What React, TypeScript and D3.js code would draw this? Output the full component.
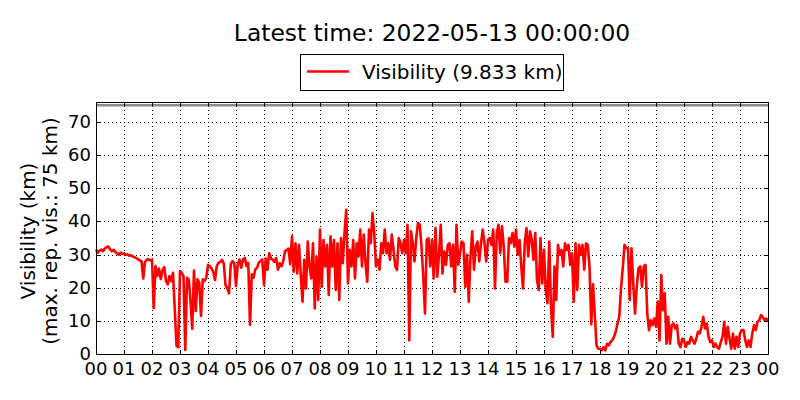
import * as d3 from "d3";

// visibility in km, one row per hour, 16 samples per hour (3.75 min step)
const visibility: number[] = [
  31.5, 30.6, 31.2, 31.5, 31.0, 31.8, 32.2, 32.4, 31.6, 31.0, 31.4, 30.8, 30.4, 29.9, 30.6, 30.2,
  30.4, 29.9, 30.1, 29.6, 29.8, 29.4, 29.2, 28.9, 28.6, 28.2, 28.0, 22.8, 27.8, 28.4, 28.6, 28.2,
  28.4, 13.8, 26.5, 23.5, 25.8, 22.6, 25.2, 26.2, 22.0, 21.0, 23.5, 22.0, 24.5, 13.5, 2.5, 2.0,
  25.0, 24.5, 23.5, 1.2, 23.0, 22.5, 16.0, 7.6, 25.2, 13.0, 22.5, 21.5, 11.5, 22.5, 22.0, 23.0,
  26.9, 26.4, 25.8, 24.8, 22.3, 26.5, 27.5, 27.8, 28.4, 27.3, 20.8, 19.8, 18.3, 27.0, 28.0, 27.5,
  20.5, 27.0, 28.5, 26.0, 28.5, 29.0, 26.5, 27.5, 8.8, 24.0, 23.0, 25.5, 26.0, 27.5, 28.0, 28.5,
  20.8, 28.8, 25.4, 30.4, 28.8, 28.4, 27.8, 28.9, 25.4, 27.4, 26.4, 28.0, 31.0, 31.3, 31.8, 27.0,
  35.5, 24.8, 33.4, 24.3, 32.9, 23.8, 15.8, 28.4, 19.8, 33.9, 26.4, 22.8, 33.4, 13.7, 29.4, 16.3,
  37.5, 20.3, 34.4, 26.4, 32.9, 17.8, 35.5, 26.4, 34.4, 19.3, 33.4, 16.3, 35.0, 27.4, 36.5, 43.5,
  21.3, 31.4, 26.4, 34.4, 22.8, 33.4, 29.4, 37.5, 26.4, 36.0, 27.4, 21.8, 37.5, 33.4, 42.5, 36.5,
  26.4, 28.4, 25.4, 33.4, 30.4, 37.5, 30.4, 33.4, 28.4, 36.0, 31.4, 26.4, 25.4, 35.0, 33.4, 30.4,
  34.4, 30.4, 39.0, 4.1, 37.0, 33.4, 27.9, 35.0, 39.5, 39.0, 32.4, 23.3, 12.2, 34.4, 34.9, 26.4,
  34.4, 22.8, 38.0, 23.3, 29.9, 39.0, 24.3, 30.9, 26.9, 32.9, 33.4, 26.4, 32.9, 18.8, 39.0, 26.9,
  30.4, 33.9, 33.4, 20.3, 29.9, 15.8, 29.4, 37.0, 25.4, 32.4, 33.9, 27.9, 33.4, 37.5, 33.4, 27.9,
  34.4, 35.0, 32.9, 37.5, 19.8, 36.5, 39.0, 30.4, 38.5, 32.4, 21.8, 21.8, 35.0, 33.4, 36.5, 32.4,
  37.5, 29.9, 34.4, 26.4, 19.8, 33.4, 38.0, 29.4, 37.0, 34.4, 28.4, 36.5, 22.3, 19.3, 35.0, 21.3,
  31.4, 19.3, 15.3, 33.9, 14.2, 5.2, 26.4, 16.3, 32.9, 29.9, 31.4, 26.4, 33.4, 31.4, 32.9, 26.9,
  30.4, 15.8, 33.4, 19.3, 32.9, 29.9, 32.9, 25.4, 33.4, 32.9, 26.4, 9.0, 21.0, 12.0, 2.6, 1.6,
  1.6, 1.1, 2.1, 1.1, 3.1, 2.6, 3.6, 4.1, 5.2, 6.7, 9.2, 11.2, 19.8, 25.9, 32.9, 31.9,
  31.9, 16.3, 31.9, 21.3, 12.2, 20.3, 25.9, 26.4, 20.3, 26.4, 26.9, 12.2, 7.2, 10.2, 8.7, 10.7,
  8.2, 15.8, 4.1, 23.8, 13.2, 18.3, 3.1, 11.2, 3.1, 8.7, 9.2, 7.7, 8.7, 3.1, 2.1, 4.6,
  4.1, 2.1, 3.6, 3.1, 5.2, 4.1, 3.1, 4.6, 6.7, 6.2, 8.2, 11.2, 7.7, 9.2, 5.2, 3.6,
  4.1, 2.1, 3.1, 2.1, 1.6, 3.6, 5.2, 9.7, 3.1, 8.2, 4.6, 1.6, 6.2, 1.6, 5.2, 2.1,
  6.2, 7.2, 7.2, 4.1, 2.1, 4.1, 2.1, 6.2, 8.7, 7.2, 9.7, 10.2, 11.7, 11.2, 10.2, 10.7,
  9.833,
];
const samplesPerHour = 16;

const hourLabels = [
  "00", "01", "02", "03", "04", "05", "06", "07", "08", "09", "10", "11", "12",
  "13", "14", "15", "16", "17", "18", "19", "20", "21", "22", "23", "00",
];
const yTicks = [0, 10, 20, 30, 40, 50, 60, 70];
const maxRepVis = 75;
const title = "Latest time: 2022-05-13 00:00:00";
const legendLabel = "Visibility (9.833 km)";

const W = 800, H = 400;
const L = 96, R = 768, T = 102, B = 354;
const FONT = "'DejaVu Sans', sans-serif";

export default function App() {
  const x = d3.scaleLinear().domain([0, 24]).range([L, R]);
  const y = d3.scaleLinear().domain([0, 76]).range([B, T]);
  const line = d3.line<number>()
    .x((_, i) => x(i / samplesPerHour))
    .y((d) => y(d));

  return (
    <div style={{ position: "absolute", left: 0, top: 0 }}>
      <svg width={W} height={H} style={{ background: "#fff", display: "block", fontFamily: FONT }}>
        <text x={(L + R) / 2} y={41} textAnchor="middle" fontSize={23.4}>{title}</text>

        {/* grid */}
        <g stroke="#000" strokeWidth={1} strokeDasharray="1,3">
          {hourLabels.slice(1, -1).map((_, i) => (
            <line key={"gx" + i} x1={x(i + 1) + 0.5} x2={x(i + 1) + 0.5} y1={T} y2={B} />
          ))}
          {yTicks.slice(1).map((v) => (
            <line key={"gy" + v} x1={L} x2={R} y1={Math.round(y(v)) + 0.5} y2={Math.round(y(v)) + 0.5} />
          ))}
        </g>

        {/* max representative visibility */}
        <line x1={L} x2={R} y1={y(maxRepVis)} y2={y(maxRepVis)} stroke="#8c8c8c" strokeWidth={2.5} />

        <path d={line(visibility) ?? ""} fill="none" stroke="#ff0000" strokeWidth={2.6} strokeLinejoin="round" />

        {/* ticks */}
        <g stroke="#000" strokeWidth={1}>
          {hourLabels.map((_, i) => (
            <g key={"tx" + i}>
              <line x1={x(i) + 0.5} x2={x(i) + 0.5} y1={B} y2={B - 4} />
              <line x1={x(i) + 0.5} x2={x(i) + 0.5} y1={T} y2={T + 4} />
            </g>
          ))}
          {yTicks.map((v) => (
            <g key={"ty" + v}>
              <line x1={L} x2={L + 4} y1={Math.round(y(v)) + 0.5} y2={Math.round(y(v)) + 0.5} />
              <line x1={R - 4} x2={R} y1={Math.round(y(v)) + 0.5} y2={Math.round(y(v)) + 0.5} />
            </g>
          ))}
        </g>

        <rect x={L + 0.5} y={T + 0.5} width={R - L} height={B - T} fill="none" stroke="#000" strokeWidth={1} />

        {/* tick labels */}
        <g fontSize={18} fill="#000">
          {hourLabels.map((t, i) => (
            <text key={"lx" + i} x={x(i)} y={375} textAnchor="middle">{t}</text>
          ))}
          {yTicks.map((v) => (
            <text key={"ly" + v} x={L - 5} y={y(v) + 6} textAnchor="end">{v}</text>
          ))}
        </g>

        {/* y label */}
        <g fontSize={20} textAnchor="middle">
          <text transform={`translate(35,231) rotate(-90)`}>Visibility (km)</text>
          <text transform={`translate(57,231) rotate(-90)`}>(max. rep. vis.: 75 km)</text>
        </g>

        {/* legend */}
        <rect x={300.5} y={54.5} width={263} height={36} fill="#fff" stroke="#000" strokeWidth={1} />
        <line x1={307} x2={349} y1={71.5} y2={71.5} stroke="#ff0000" strokeWidth={2.6} />
        <text x={362} y={78.5} fontSize={20}>{legendLabel}</text>
      </svg>
    </div>
  );
}
